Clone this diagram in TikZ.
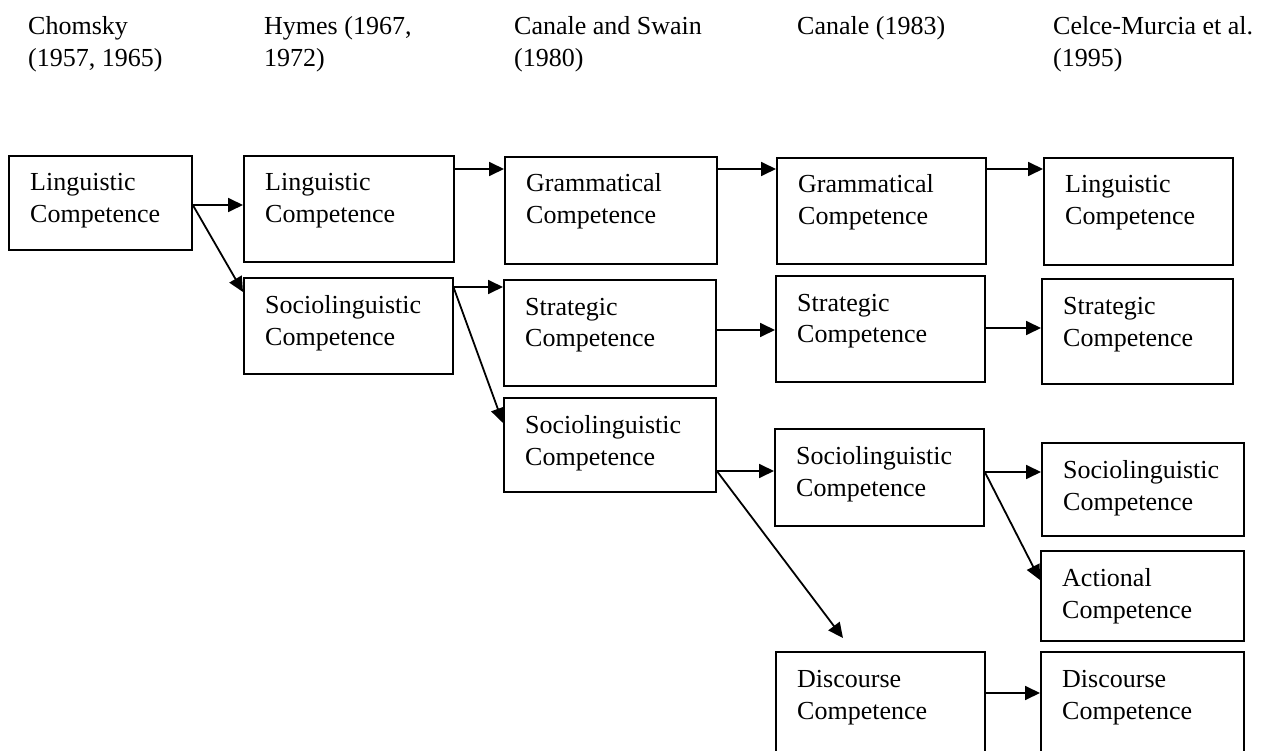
\documentclass[tikz,border=0pt]{standalone}
\usepackage{fontspec}
\setmainfont{Liberation Serif}
\usetikzlibrary{arrows.meta}
\tikzset{
  box/.style={draw, line width=1.8pt, inner sep=0pt, anchor=north west},
  txt/.style={font=\fontsize{26}{32}\selectfont, align=left, inner sep=0pt, anchor=base west},
  head/.style={font=\fontsize{26}{32}\selectfont, align=left, inner sep=0pt, anchor=base west},
  arr/.style={line width=1.8pt, -{Triangle[length=15pt,width=14pt]}}
}
\newcommand\compbox[6]{%
  \node[box, minimum width={#4-#2}, minimum height={#5-#3}] (#1) at (#2,#3) {};
  \node[txt] (#1-t) at ([xshift=22pt, yshift=-68pt]#1.north west) {#6};
}
\begin{document}
\begin{tikzpicture}[x=1pt, y=-1pt]
\useasboundingbox (0,0) rectangle (1264,751);
\clip (0,0) rectangle (1264,751);
\fill[white] (0,0) rectangle (1264,751);

% headers (anchor = baseline of last line)
\node[head] (h1) at (28,67) {Chomsky\\(1957, 1965)};
\node[head] (h2) at (264,67) {Hymes (1967,\\1972)};
\node[head] (h3) at (514,67) {Canale and Swain\\(1980)};
\node[head] (h4) at (797,35) {Canale (1983)};
\node[head] (h5) at (1053,67) {Celce-Murcia et al.\\(1995)};

% boxes
\compbox{ch}{8}{155}{191}{249}{Linguistic\\Competence}
\compbox{hl}{243}{155}{453}{261}{Linguistic\\Competence}
\compbox{hs}{243}{277}{452}{373}{Sociolinguistic\\Competence}
\compbox{csg}{504}{156}{716}{263}{Grammatical\\Competence}
\compbox{css}{503}{279}{715}{385}{Strategic\\Competence}
\compbox{cssl}{503}{397}{715}{491}{Sociolinguistic\\Competence}
\compbox{cg}{776}{157}{985}{263}{Grammatical\\Competence}
\compbox{cs}{775}{275}{984}{381}{Strategic\\Competence}
\compbox{csl}{774}{428}{983}{525}{Sociolinguistic\\Competence}
\compbox{cd}{775}{651}{984}{780}{Discourse\\Competence}
\compbox{ml}{1043}{157}{1232}{264}{Linguistic\\Competence}
\compbox{ms}{1041}{278}{1232}{383}{Strategic\\Competence}
\compbox{msl}{1041}{442}{1243}{535}{Sociolinguistic\\Competence}
\compbox{ma}{1040}{550}{1243}{640}{Actional\\Competence}
\compbox{md}{1040}{651}{1243}{780}{Discourse\\Competence}

\coordinate (cdtip) at (843,638);

% connectors
\draw[arr] ([yshift=-50pt]ch.north east) -- ([yshift=-50pt]ch.north east -| hl.west);
\draw[arr] ([yshift=-50pt]ch.north east) -- ([yshift=-15pt]hs.north west);
\draw[arr] ([yshift=-14pt]hl.north east) -- ([yshift=-14pt]hl.north east -| csg.west);
\draw[arr] ([yshift=-10pt]hs.north east) -- ([yshift=-10pt]hs.north east -| css.west);
\draw[arr] ([yshift=-11pt]hs.north east) -- ([yshift=-26pt]cssl.north west);
\draw[arr] ([yshift=-13pt]csg.north east) -- ([yshift=-13pt]csg.north east -| cg.west);
\draw[arr] ([yshift=-51pt]css.north east) -- ([yshift=-51pt]css.north east -| cs.west);
\draw[arr] ([yshift=-74pt]cssl.north east) -- ([yshift=-74pt]cssl.north east -| csl.west);
\draw[arr] ([yshift=-74pt]cssl.north east) -- (cdtip);
\draw[arr] ([yshift=-12pt]cg.north east) -- ([yshift=-12pt]cg.north east -| ml.west);
\draw[arr] ([yshift=-53pt]cs.north east) -- ([yshift=-53pt]cs.north east -| ms.west);
\draw[arr] ([yshift=-44pt]csl.north east) -- ([yshift=-44pt]csl.north east -| msl.west);
\draw[arr] ([yshift=-44pt]csl.north east) -- ([yshift=-30pt]ma.north west);
\draw[arr] ([yshift=-42pt]cd.north east) -- ([yshift=-42pt]cd.north east -| md.west);
\end{tikzpicture}
\end{document}
